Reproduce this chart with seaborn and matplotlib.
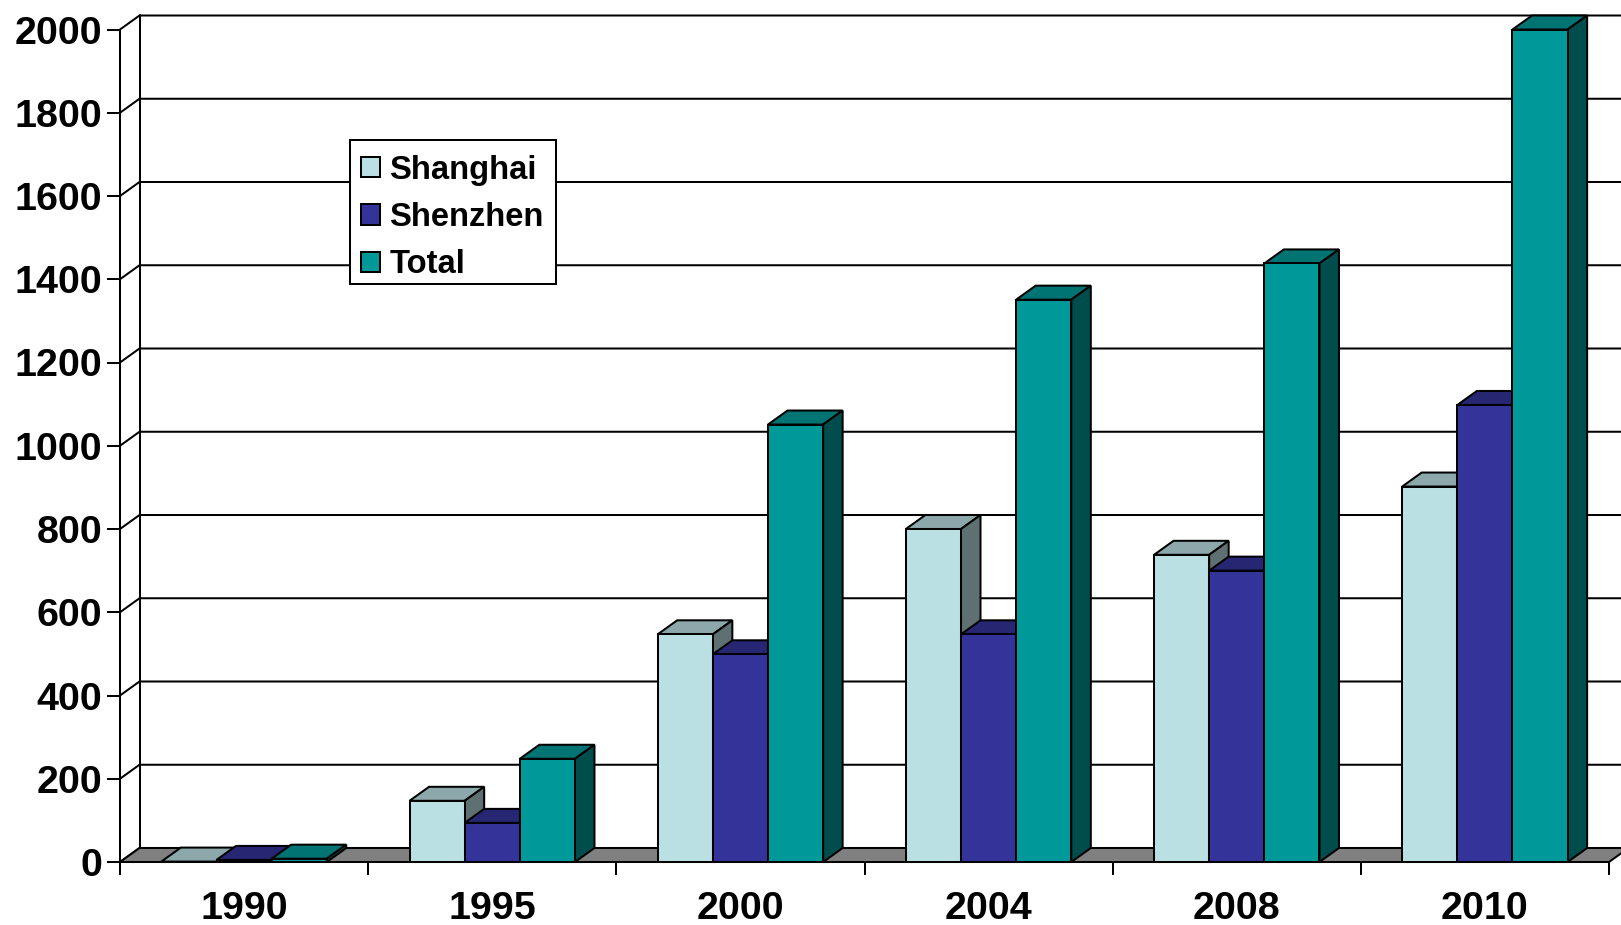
import matplotlib
matplotlib.use("Agg")
import matplotlib.pyplot as plt
from matplotlib.patches import Polygon, Rectangle
from matplotlib.colors import to_rgb
import pandas as pd
import seaborn as sns

# Listed companies per exchange, by year
years = ["1990", "1995", "2000", "2004", "2008", "2010"]
shanghai = [1, 147, 547, 800, 738, 902]
shenzhen = [5, 94, 499, 547, 700, 1098]
total = [8, 248, 1051, 1351, 1438, 2000]
series_names = ["Shanghai", "Shenzhen", "Total"]
series_colors = ["#BBE0E3", "#333399", "#009999"]
y_ticks = list(range(0, 2001, 200))

W, H, DPI = 1621, 925, 100
AX_LEFT, AX_RIGHT, AX_BASE, AX_TOP = 120, 1609, 862, 29.5   # plot box in pixels
DEPTH_X, DEPTH_Y = 19.5, 14                                 # extrusion in pixels
LW = 1.45
LABEL_SIZE = 28.4

sns.set_theme(style="white")
plt.rcParams["font.family"] = ["Liberation Sans", "DejaVu Sans"]
plt.rcParams["font.weight"] = "bold"

df = pd.DataFrame({"year": years, "Shanghai": shanghai, "Shenzhen": shenzhen, "Total": total})
long_df = df.melt(id_vars="year", var_name="market", value_name="companies")

fig = plt.figure(figsize=(W / DPI, H / DPI), dpi=DPI, facecolor="white")
ax = fig.add_axes([AX_LEFT / W, (H - AX_BASE) / H,
                   (AX_RIGHT - AX_LEFT) / W, (AX_BASE - AX_TOP) / H])

sns.barplot(data=long_df, x="year", y="companies", hue="market", hue_order=series_names,
            palette=dict(zip(series_names, series_colors)), width=2 / 3, gap=0,
            saturation=1, edgecolor="black", linewidth=LW, ax=ax, legend=True, zorder=5)

ax.set_xlim(-0.5, len(years) - 0.5)
ax.set_ylim(0, 2000)
dx = DEPTH_X * (len(years)) / (AX_RIGHT - AX_LEFT)
dy = DEPTH_Y * 2000 / (AX_BASE - AX_TOP)
x0, x1 = ax.get_xlim()


def shade(color, factor):
    return tuple(c * factor for c in to_rgb(color))


# Back wall: gridlines joined to the front axis by short diagonals
for v in y_ticks:
    ax.plot([x0, x0 + dx, x1 + dx], [v, v + dy, v + dy], color="black", lw=LW,
            clip_on=False, zorder=1, solid_joinstyle="miter")
ax.plot([x0 + dx, x0 + dx], [dy, 2000 + dy], color="black", lw=LW, clip_on=False, zorder=1)

# Floor of the box
ax.add_patch(Polygon([(x0, 0), (x0 + dx, dy), (x1 + dx, dy), (x1, 0)], closed=True,
                     facecolor="#808080", edgecolor="black", lw=LW, clip_on=False, zorder=2))

# Extrude each bar: top and side faces sit behind the front face of the same bar
for s, container in enumerate(ax.containers):
    base_color = series_colors[s]
    for c, bar in enumerate(container):
        left, right = bar.get_x(), bar.get_x() + bar.get_width()
        h = bar.get_height()
        order = 10 + c * 10 + s * 2
        bar.set_zorder(order + 1)
        bar.set_clip_on(False)
        ax.add_patch(Polygon([(left, h), (left + dx, h + dy), (right + dx, h + dy), (right, h)],
                             closed=True, facecolor=shade(base_color, 0.75), edgecolor="black",
                             lw=LW, clip_on=False, zorder=order))
        ax.add_patch(Polygon([(right, 0), (right + dx, dy), (right + dx, h + dy), (right, h)],
                             closed=True, facecolor=shade(base_color, 0.5), edgecolor="black",
                             lw=LW, clip_on=False, zorder=order))

# Axes, ticks and labels
ax.set_xlabel("")
ax.set_ylabel("")
for side in ("top", "right"):
    ax.spines[side].set_visible(False)
for side in ("left", "bottom"):
    ax.spines[side].set_visible(True)
    ax.spines[side].set_color("black")
    ax.spines[side].set_linewidth(LW)
    ax.spines[side].set_zorder(4)
ax.patch.set_alpha(0)
ax.set_yticks(y_ticks)
ax.set_xticks([i - 0.5 for i in range(len(years) + 1)], minor=True)
ax.tick_params(axis="y", left=True, length=9.4, width=LW, color="black", pad=3.5,
               labelsize=LABEL_SIZE, labelcolor="black")
ax.tick_params(axis="x", which="major", bottom=False, length=0, pad=21,
               labelsize=LABEL_SIZE, labelcolor="black")
ax.tick_params(axis="x", which="minor", bottom=True, length=9.4, width=LW, color="black")
for label in ax.get_xticklabels() + ax.get_yticklabels():
    label.set_fontweight("bold")


def axes_x(px):
    return (px - AX_LEFT) / (AX_RIGHT - AX_LEFT)


def axes_y(px):
    return (AX_BASE - px) / (AX_BASE - AX_TOP)


# White legend panel over the back wall
ax.add_patch(Rectangle((axes_x(350), axes_y(284)), axes_x(556) - axes_x(350),
                       axes_y(140) - axes_y(284), transform=ax.transAxes, facecolor="white",
                       edgecolor="black", lw=LW, clip_on=False, zorder=199))

handles, labels = ax.get_legend_handles_labels()
leg = ax.legend(handles, labels, loc="upper left",
                bbox_to_anchor=(axes_x(361), axes_y(154.5)),
                borderaxespad=0, frameon=False, handlelength=0.58, handleheight=0.58,
                handletextpad=0.29, labelspacing=0.5, borderpad=0, title=None,
                labelcolor="black", prop={"weight": "bold", "size": 23.6})
leg.set_zorder(200)
for patch in leg.get_patches():
    patch.set_edgecolor("black")
    patch.set_linewidth(LW)

fig.savefig("out.png", dpi=DPI, facecolor="white")
